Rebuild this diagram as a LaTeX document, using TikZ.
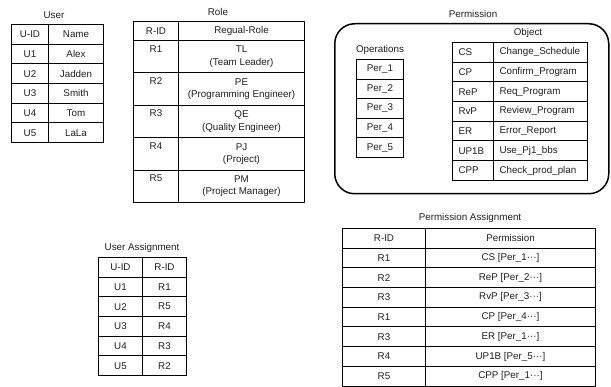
\documentclass[tikz,border=0pt]{standalone}
\usepackage{fontspec}
\setmainfont{Liberation Sans}
\newcommand\tabfont{\fontsize{9.8}{12.2}\selectfont}
\begin{document}
\begin{tikzpicture}[x=1pt,y=-1pt,
  cell/.style={draw, line width=1pt, inner sep=0pt, anchor=north west, font=\tabfont, text=black!88},
  lcell/.style={cell, inner xsep=6pt, align=left},
  ttl/.style={font=\tabfont, text=black!88, inner sep=0pt}]
\useasboundingbox (0,0) rectangle (611,387);
% User
\node[ttl] (usert) at (54,15) {User};
\foreach [count=\i from 0] \a/\b in {U-ID/Name,U1/Alex,U2/Jadden,U3/Smith,U4/Tom,U5/LaLa} {
  \node[cell, minimum width=37, minimum height=19.67] (user-\i-1) at (11,{24+\i*19.67}) {\a};
  \node[cell, minimum width=55, minimum height=19.67] (user-\i-2) at (48,{24+\i*19.67}) {\b};
}
% Role
\node[ttl] (rolet) at (218,12) {Role};
\node[cell, minimum width=45, minimum height=19] (role-0-1) at (133,21) {R-ID};
\node[cell, minimum width=126, minimum height=19] (role-0-2) at (178,21) {Regual-Role};
\foreach [count=\i from 1] \a/\b/\c in {R1/TL/(Team Leader),R2/PE/(Programming Engineer),R3/QE/(Quality Engineer),R4/PJ/(Project),R5/PM/(Project Manager)} {
  \node[cell, minimum width=45, minimum height=32.4, align=center] (role-\i-1) at (133,{40+(\i-1)*32.4}) {\a\\\strut};
  \node[cell, minimum width=126, minimum height=32.4, align=center] (role-\i-2) at (178,{40+(\i-1)*32.4}) {\b\\\c};
}
% Permission
\node[ttl] (permt) at (473,14) {Permission};
\node[draw, line width=1.5pt, rounded corners=20pt, minimum width=274, minimum height=170, anchor=north west] (perm) at (334,23) {};
\node[ttl] (opt) at (380,50) {Operations};
\foreach [count=\i from 0] \a in {Per\_1,Per\_2,Per\_3,Per\_4,Per\_5} {
  \node[cell, minimum width=47, minimum height=19.6] (op-\i) at (356,{59+\i*19.6}) {\a};
}
\node[ttl] (objt) at (528,33) {Object};
\foreach [count=\i from 0] \a/\b in {CS/Change\_Schedule,CP/Confirm\_Program,ReP/Req\_Program,RvP/Review\_Program,ER/Error\_Report,UP1B/Use\_Pj1\_bbs,CPP/Check\_prod\_plan} {
  \node[lcell, text width=29, minimum height=19.7] (obj-\i-1) at (452,{42+\i*19.7}) {\a};
  \node[lcell, text width=82, minimum height=19.7] (obj-\i-2) at (493,{42+\i*19.7}) {\b};
}
% User Assignment
\node[ttl] (uat) at (142,248) {User Assignment};
\foreach [count=\i from 0] \a/\b in {U-ID/R-ID,U1/R1,U2/R5,U3/R4,U4/R3,U5/R2} {
  \node[cell, minimum width=44, minimum height=19.67] (ua-\i-1) at (98,{257+\i*19.67}) {\a};
  \node[cell, minimum width=44, minimum height=19.67] (ua-\i-2) at (142,{257+\i*19.67}) {\b};
}
% Permission Assignment
\node[ttl] (pat) at (470,218) {Permission Assignment};
\foreach [count=\i from 0] \a/\b in {R-ID/Permission,R1/CS [Per\_1···],R2/ReP [Per\_2···],R3/RvP [Per\_3···],R1/CP [Per\_4···],R3/ER [Per\_1···],R4/UP1B [Per\_5···],R5/CPP [Per\_1···]} {
  \node[cell, minimum width=83, minimum height=19.7] (pa-\i-1) at (342,{228+\i*19.7}) {\a};
  \node[cell, minimum width=170, minimum height=19.7] (pa-\i-2) at (425,{228+\i*19.7}) {\b};
}
\end{tikzpicture}
\end{document}
